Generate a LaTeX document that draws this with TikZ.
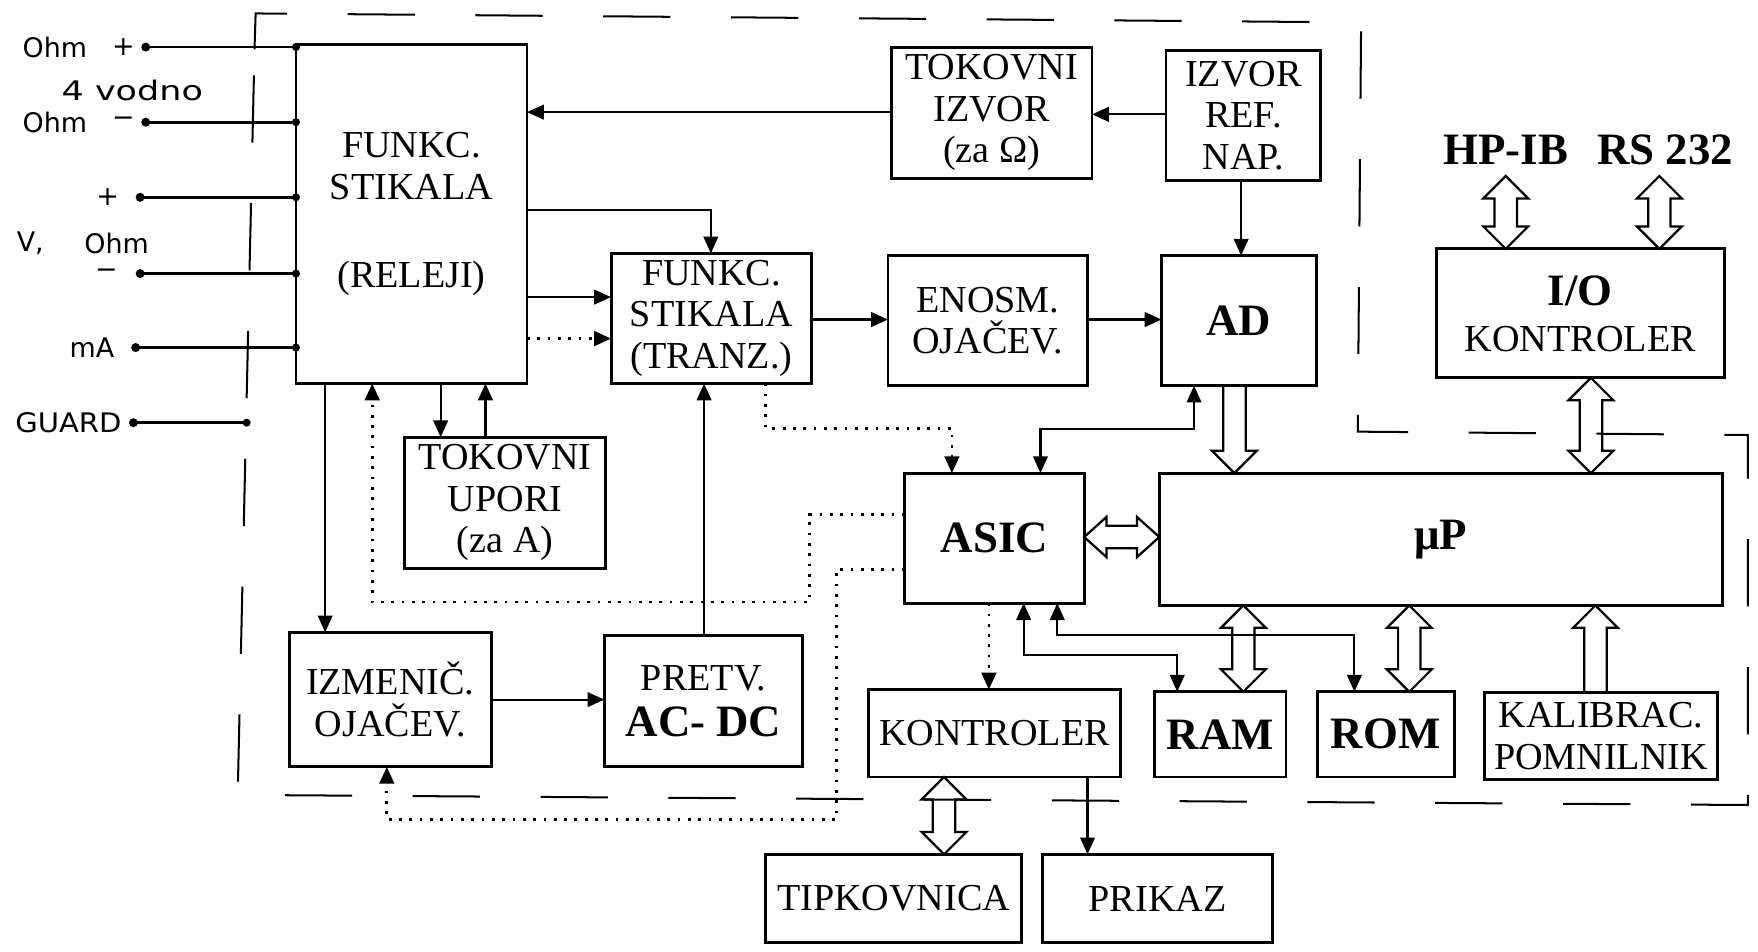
\documentclass[tikz,border=0pt]{standalone}
\usepackage{fontspec}
\setmainfont{Liberation Serif}
\newfontfamily\plotfont{DejaVu Sans}
\usetikzlibrary{arrows.meta,calc}
\tikzset{
 box/.style={draw, line width=1.3pt, inner sep=0pt, outer sep=0pt, align=center, font=\fontsize{17}{18.5}\selectfont},
 bbox/.style={box, font=\bfseries\fontsize{20}{22}\selectfont},
 conn/.style={line width=0.95pt, -{Triangle[length=7.5pt,width=6.5pt]}},
 conn2/.style={line width=0.95pt, {Triangle[length=7.5pt,width=6.5pt]}-{Triangle[length=7.5pt,width=6.5pt]}},
 dotline/.style={line width=1.2pt, dash pattern=on 1.2pt off 3.4pt},
 hollow/.style={line width=1pt, line join=miter},
 wire/.style={line width=1.2pt},
 lbl/.style={font=\plotfont\fontsize{12}{12}\selectfont, inner sep=0pt},
 btxt/.style={font=\bfseries\fontsize{20}{22}\selectfont, inner sep=0pt},
 bnd/.style={line width=0.9pt, dash pattern=on 30pt off 27pt},
}
\newcommand\bx[7][box]{\node[#1, minimum width={(#5-#3)*0.5pt}, minimum height={(#6-#4)*0.5pt}] (#2) at ({(#3+#5)/2},{(#4+#6)/2}) {#7};}
% vertical double hollow arrow, #1 top point, #2 bottom point
\newcommand\vdbl[2]{\draw[hollow] let \p1=(#1), \p2=(#2) in (\x1,\y1) -- (\x1+10pt,\y1-10pt) -- (\x1+5pt,\y1-10pt) -- (\x1+5pt,\y2+10pt) -- (\x1+10pt,\y2+10pt) -- (\x1,\y2) -- (\x1-10pt,\y2+10pt) -- (\x1-5pt,\y2+10pt) -- (\x1-5pt,\y1-10pt) -- (\x1-10pt,\y1-10pt) -- cycle;}
% single hollow arrow pointing down: #1 tail (top), #2 tip (bottom)
\newcommand\vdown[2]{\draw[hollow] let \p1=(#1), \p2=(#2) in (\x1-5pt,\y1) -- (\x1-5pt,\y2+10pt) -- (\x1-10pt,\y2+10pt) -- (\x1,\y2) -- (\x1+10pt,\y2+10pt) -- (\x1+5pt,\y2+10pt) -- (\x1+5pt,\y1);}
% single hollow arrow pointing up: #1 tip (top), #2 tail (bottom)
\newcommand\vup[2]{\draw[hollow] let \p1=(#1), \p2=(#2) in (\x1-5pt,\y2) -- (\x1-5pt,\y1-10pt) -- (\x1-10pt,\y1-10pt) -- (\x1,\y1) -- (\x1+10pt,\y1-10pt) -- (\x1+5pt,\y1-10pt) -- (\x1+5pt,\y2);}
% horizontal double hollow arrow, #1 left, #2 right
\newcommand\hdbl[2]{\draw[hollow] let \p1=(#1), \p2=(#2) in (\x1,\y1) -- (\x1+10pt,\y1+9pt) -- (\x1+10pt,\y1+5pt) -- (\x2-10pt,\y1+5pt) -- (\x2-10pt,\y1+9pt) -- (\x2,\y1) -- (\x2-10pt,\y1-9pt) -- (\x2-10pt,\y1-5pt) -- (\x1+10pt,\y1-5pt) -- (\x1+10pt,\y1-9pt) -- cycle;}
\begin{document}
\begin{tikzpicture}[x=0.5pt,y=-0.5pt]
\useasboundingbox (0,0) rectangle (1568,849);
\fill[white] (0,0) rectangle (1568,849);
% boundary
\draw[bnd] (227,44) -- (228,12) -- (1214,20) -- (1211,385) -- (1559,388) -- (1559,718) -- (212,709) -- (227,44);
% boxes
\bx{fr}{264}{40}{470}{342}{\fontsize{17}{17}\selectfont FUNKC.\\STIKALA\\[21pt](RELEJI)}
\bx{ti}{795}{42}{974}{159}{\fontsize{17}{19.5}\selectfont TOKOVNI\\IZVOR\\(za Ω)}
\bx{ir}{1040}{45}{1178}{161}{\fontsize{17}{19}\selectfont IZVOR\\REF.\\NAP.}
\bx{ft}{545}{226}{724}{342}{\fontsize{17}{18.3}\selectfont FUNKC.\\STIKALA\\(TRANZ.)}
\bx{en}{792}{228}{970}{344}{\fontsize{17}{18}\selectfont ENOSM.\\OJAČEV.}
\bx[bbox]{ad}{1036}{228}{1174}{344}{AD}
\bx{io}{1281}{222}{1538}{337}{{\bfseries\fontsize{20}{20}\selectfont I/O}\\[2pt]KONTROLER}
\bx{tu}{361}{390}{540}{507}{\fontsize{17}{19.5}\selectfont TOKOVNI\\UPORI\\(za A)}
\bx[bbox]{as}{807}{422}{967}{538}{ASIC}
\bx[bbox]{up}{1034}{422}{1536}{540}{μP}
\bx{iz}{258}{564}{438}{684}{\fontsize{17}{18.5}\selectfont IZMENIČ.\\OJAČEV.}
\bx{pr}{539}{567}{716}{684}{PRETV.\\[2pt]{\bfseries\fontsize{20}{20}\selectfont AC- DC}}
\bx{ko}{775}{615}{999}{693}{KONTROLER}
\bx[bbox]{ram}{1030}{617}{1147}{693}{RAM}
\bx[bbox]{rom}{1175}{617}{1297}{693}{ROM}
\bx{ka}{1324}{618}{1532}{695}{\fontsize{17}{18.5}\selectfont KALIBRAC.\\POMNILNIK}
\bx{tp}{683}{762}{911}{841}{TIPKOVNICA}
\bx{pk}{930}{762}{1135}{841}{PRIKAZ}
% interface labels
\node[btxt] (hpib) at (1343,134) {HP-IB};
\node[btxt] (rs) at (1485,134) {RS 232};
\coordinate (hpt) at (1343,157);
\coordinate (rst) at (1480,157);
% left labels
\node[lbl] (l1) at (49,42) {Ohm};
\node[lbl] (l1p) at (110,42) {+};
\node[lbl] (l2) at (118,81) {\scalebox{1.3}[1]{4 vodno}};
\node[lbl] (l3) at (49,109) {Ohm};
\node[lbl] (l3m) at (110,109) {−};
\node[lbl] (l4p) at (96,176) {+};
\node[lbl] (l5a) at (27,217) {V,};
\node[lbl] (l5b) at (104,217) {Ohm};
\node[lbl] (l6m) at (95,244) {−};
\node[lbl] (l7) at (82,310) {mA};
\node[lbl] (l8) at (61,377) {\scalebox{1.08}[1]{GUARD}};
% input wires
\coordinate (i1) at (130,42);
\coordinate (i2) at (130,109);
\coordinate (i3) at (125,176);
\coordinate (i4) at (125,244);
\coordinate (i5) at (121,310);
\coordinate (i6) at (119,377);
\coordinate (gend) at (220,377);
\foreach \c in {i1,i2,i3,i4,i5}{
  \fill (\c) circle (2pt);
  \draw[wire] (\c) -- (\c -| fr.west);
  \fill (\c -| fr.west) circle (1.8pt);
}
\fill (i6) circle (2pt);
\draw[wire] (i6) -- (gend);
\fill (gend) circle (1.8pt);
% connectors
\draw[conn] (ti.west |- 0,100) -- (fr.east |- 0,100);
\draw[conn] (ir.west |- 0,102) -- (ti.east |- 0,102);
\draw[conn] (1107,0 |- ir.south) -- (1107,0 |- ad.north);
\draw[conn] (fr.east |- 0,187) -| (634,0 |- ft.north);
\draw[conn] (fr.east |- 0,265) -- (ft.west |- 0,265);
\draw[conn,dotline] (fr.east |- 0,302) -- (ft.west |- 0,302);
\draw[conn] (ft.east |- 0,285) -- (en.west |- 0,285);
\draw[conn] (en.east |- 0,285) -- (ad.west |- 0,285);
\draw[conn,dotline] (683,0 |- ft.south) |- (849,382) -- (849,0 |- as.north);
\draw[conn2] (928,0 |- as.north) |- (1065,383) -- (1065,0 |- ad.south);
\draw[conn] (290,0 |- fr.south) -- (290,0 |- iz.north);
\draw[conn] (393,0 |- fr.south) -- (393,0 |- tu.north);
\draw[conn] (433,0 |- tu.north) -- (433,0 |- fr.south);
\draw[conn,dotline] (as.west |- 0,459) -| (722,537) -| (332,0 |- fr.south);
\draw[conn] (628,0 |- pr.north) -- (628,0 |- ft.south);
\draw[conn] (iz.east |- 0,624) -- (pr.west |- 0,624);
\draw[conn,dotline] (as.west |- 0,508) -| (746,731) -| (345,0 |- iz.south);
\draw[conn,dotline] (882,0 |- as.south) -- (882,0 |- ko.north);
\draw[conn2] (913,0 |- as.south) |- (1050,584) -- (1050,0 |- ram.north);
\draw[conn2] (943,0 |- as.south) |- (1208,566) -- (1208,0 |- rom.north);
\draw[conn] (970,0 |- ko.south) -- (970,0 |- pk.north);
% hollow bus arrows
\vdown{1101,0 |- ad.south}{1101,0 |- up.north}
\vdbl{1419,0 |- io.south}{1419,0 |- up.north}
\vdbl{hpt}{hpt |- io.north}
\vdbl{rst}{rst |- io.north}
\hdbl{as.east |- 0,479}{up.west |- 0,479}
\vdbl{1109,0 |- up.south}{1109,0 |- ram.north}
\vdbl{1257,0 |- up.south}{1257,0 |- rom.north}
\vup{1423,0 |- up.south}{1423,0 |- ka.north}
\vdbl{842,0 |- ko.south}{842,0 |- tp.north}
\end{tikzpicture}
\end{document}
